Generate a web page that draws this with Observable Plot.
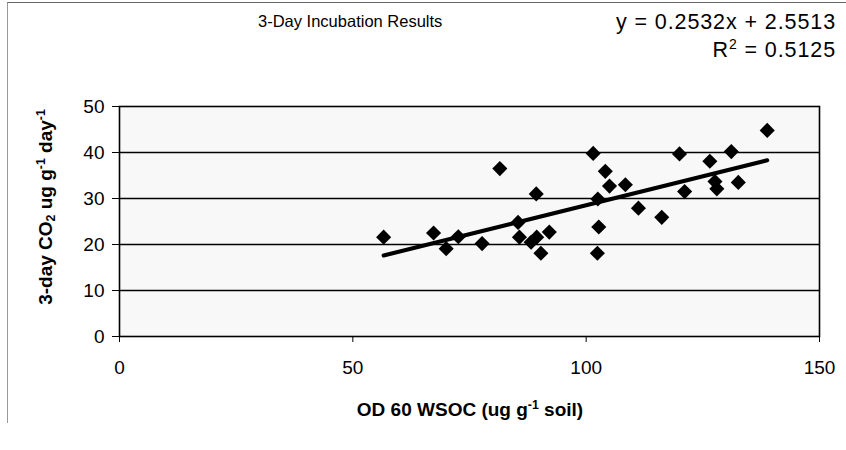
<!DOCTYPE html>
<html><head><meta charset="utf-8">
<script src="https://cdn.jsdelivr.net/npm/d3@7"></script>
<script src="https://cdn.jsdelivr.net/npm/@observablehq/plot@0.6"></script>
<style>
body{margin:0;background:#fff;font-family:"Liberation Sans",Arial,sans-serif;}
#wrap{position:relative;width:846px;height:450px;overflow:hidden;background:#fff;}
#wrap svg{position:absolute;left:0;top:0;}
#frame{position:absolute;left:7px;top:2px;width:850px;height:420px;border-top:1px solid #666;border-left:1px solid #999;}
.t{position:absolute;color:#000;white-space:nowrap;}
#title{left:258px;top:12px;font-size:16.5px;}
#eq{right:10px;top:8px;font-size:21.5px;letter-spacing:0.9px;text-align:right;line-height:28px;}
#ylab{font-weight:bold;font-size:19px;left:46px;top:207px;transform:translate(-50%,-50%) rotate(-90deg);}
#xlab{font-weight:bold;font-size:19px;left:470px;top:410px;transform:translate(-50%,-50%);}
sup,sub{font-size:0.65em;line-height:0;}
sub{vertical-align:-0.25em;}
</style></head><body>
<div id="wrap">
  <div id="frame"></div>
  <div class="t" id="title">3-Day Incubation Results</div>
  <div class="t" id="eq">y = 0.2532x + 2.5513<br>R<sup>2</sup> = 0.5125</div>
  <div class="t" id="ylab">3-day CO<sub>2</sub> ug g<sup>-1</sup> day<sup>-1</sup></div>
  <div class="t" id="xlab">OD 60 WSOC (ug g<sup>-1</sup> soil)</div>
</div>
<script>
const wsoc = [56.6, 67.3, 70.0, 72.6, 77.7, 81.5, 85.4, 85.7, 88.2, 89.4,
              89.3, 90.3, 92.1, 101.5, 102.4, 102.7, 102.5, 104.1, 105.0, 108.4,
              111.2, 116.2, 120.0, 121.1, 126.5, 127.6, 128.0, 131.1, 132.6, 138.8];
const co2  = [21.6, 22.5, 19.1, 21.7, 20.2, 36.5, 24.8, 21.6, 20.5, 21.6,
              31.0, 18.1, 22.7, 39.8, 18.1, 23.8, 29.9, 35.9, 32.7, 33.0,
              27.9, 25.9, 39.7, 31.5, 38.1, 33.7, 32.1, 40.2, 33.5, 44.8];
const xTicks = [0, 50, 100, 150];
const yTicks = [0, 10, 20, 30, 40, 50];
const gridLevels = [10, 20, 30, 40];

const data = wsoc.map((x, i) => ({x, y: co2[i]}));

const chart = Plot.plot({
  width: 846, height: 450,
  marginLeft: 119, marginRight: 27, marginTop: 106, marginBottom: 114,
  x: {domain: [0, 150]},
  y: {domain: [0, 50]},
  style: {fontFamily: '"Liberation Sans", Arial, sans-serif', fontSize: "19px", color: "#000", background: "transparent"},
  marks: [
    Plot.frame({fill: "#f8f8f8", stroke: "none"}),
    Plot.gridY(gridLevels, {stroke: "#000", strokeOpacity: 1, strokeWidth: 1.7}),
    Plot.frame({stroke: "#000", strokeWidth: 1.6}),
    Plot.axisY(yTicks, {tickSize: 7, tickPadding: 8, label: null, fontSize: 19, stroke: "#000"}),
    Plot.axisX(xTicks, {tickSize: 6, tickPadding: 18, label: null, fontSize: 19, stroke: "#000"}),
    Plot.linearRegressionY(data, {x: "x", y: "y", stroke: "#000", strokeWidth: 4, ci: 0}),
    Plot.dot(data, {x: "x", y: "y", symbol: "diamond2", r: 6.8, fill: "#000", stroke: "none"})
  ]
});
document.getElementById("wrap").prepend(chart);
</script>
</body></html>
